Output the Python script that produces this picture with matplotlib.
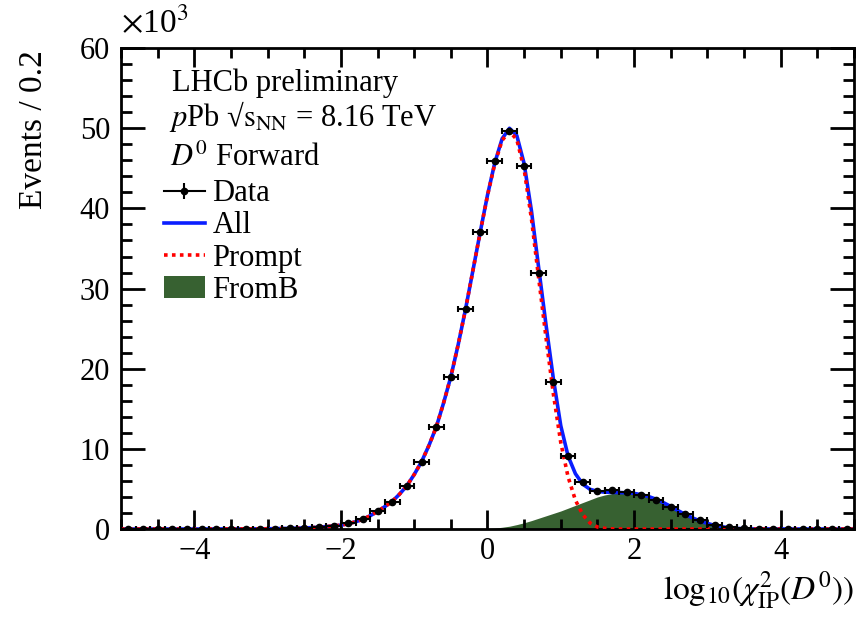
import numpy as np
import matplotlib
matplotlib.use("Agg")
import matplotlib.pyplot as plt
from matplotlib.lines import Line2D
from matplotlib.patches import Patch
from matplotlib.ticker import MultipleLocator

plt.rcParams['font.family'] = ['Liberation Serif', 'DejaVu Serif']
plt.rcParams['mathtext.fontset'] = 'stix'

# data points (bin centres, events in units of 10^3)
x_data = [-4.9, -4.7, -4.5, -4.3, -4.1, -3.9, -3.7, -3.5, -3.3, -3.1,
          -2.9, -2.7, -2.5, -2.3, -2.1, -1.9, -1.7, -1.5, -1.3, -1.1,
          -0.9, -0.7, -0.5, -0.3, -0.1, 0.1, 0.3, 0.5, 0.7, 0.9,
          1.1, 1.3, 1.5, 1.7, 1.9, 2.1, 2.3, 2.5, 2.7, 2.9,
          3.1, 3.3, 3.5, 3.7, 3.9, 4.1, 4.3, 4.5, 4.7, 4.9]
y_data = [0.0, 0.0, 0.0, 0.0, 0.0, 0.0, 0.01, 0.01, 0.02, 0.03,
          0.05, 0.08, 0.12, 0.2, 0.38, 0.7, 1.25, 2.3, 3.4, 5.4,
          8.4, 12.7, 19.0, 27.4, 37.0, 45.9, 49.7, 45.3, 32.0, 18.4,
          9.1, 5.9, 4.8, 4.85, 4.6, 4.2, 3.6, 2.75, 1.9, 1.1,
          0.55, 0.22, 0.1, 0.04, 0.02, 0.01, 0.0, 0.0, 0.0, 0.0]

# fit curves sampled along x
x_fit = np.concatenate([[-5.0, -4.0, -3.5, -3.0, -2.7, -2.4, -2.2],
                        np.round(np.arange(-2.0, 3.65, 0.1), 1),
                        [3.8, 4.2, 5.0]])

prompt = [0.0, 0.0, 0.01, 0.03, 0.08, 0.17, 0.3,
          0.48, 0.66, 0.9, 1.22, 1.66, 2.2, 2.8, 3.45, 4.35, 5.4,
          6.8, 8.4, 10.4, 12.7, 15.7, 19.0, 23.0, 27.4, 32.2, 37.0,
          41.6, 45.6, 48.5, 49.6, 48.6, 44.9, 38.7, 31.2, 23.8, 16.8,
          10.8, 6.5, 3.6, 1.8, 0.75, 0.25, 0.08, 0.02,
          0, 0, 0, 0, 0, 0, 0, 0, 0, 0, 0, 0, 0, 0, 0, 0, 0, 0, 0,
          0, 0, 0]

all_fit = [0.0, 0.0, 0.01, 0.03, 0.08, 0.17, 0.3,
           0.48, 0.66, 0.9, 1.22, 1.66, 2.2, 2.8, 3.45, 4.35, 5.4,
           6.8, 8.4, 10.4, 12.7, 15.7, 19.0, 23.0, 27.4, 32.2, 37.0,
           41.65, 45.7, 48.7, 50.0, 49.1, 45.6, 39.7, 32.5, 25.4, 18.7,
           12.9, 9.1, 6.9, 5.6, 4.95, 4.7, 4.6, 4.57, 4.55, 4.52,
           4.45, 4.28, 4.05, 3.72, 3.3, 2.82, 2.3, 1.82, 1.38, 1.0,
           0.7, 0.45, 0.28, 0.16, 0.08, 0.04, 0.02,
           0.01, 0.0, 0.0]

fromb = [0, 0, 0, 0, 0, 0, 0,
         0, 0, 0, 0, 0, 0, 0, 0, 0, 0,
         0, 0, 0, 0, 0, 0, 0, 0, 0, 0,
         0.05, 0.12, 0.22, 0.35, 0.55, 0.78, 1.05, 1.35, 1.65, 1.95,
         2.25, 2.6, 2.95, 3.3, 3.65, 4.0, 4.25, 4.42, 4.5, 4.52,
         4.45, 4.28, 4.05, 3.72, 3.3, 2.82, 2.3, 1.82, 1.38, 1.0,
         0.7, 0.45, 0.28, 0.16, 0.08, 0.04, 0.02,
         0.01, 0.0, 0.0]

green = '#376131'
blue = '#0a1eff'
fs = 22

fig = plt.figure(figsize=(8.59, 6.17), dpi=100)
ax = fig.add_axes([0.141, 0.1426, 0.853, 0.7794])

ax.fill_between(x_fit, 0, fromb, color=green, lw=0, zorder=1)
ax.plot(x_fit, all_fit, color=blue, lw=2.6, zorder=2)
ax.plot(x_fit, prompt, color='red', lw=2.6, ls=(0, (1, 1.2)), zorder=3)
ax.errorbar(x_data, y_data, xerr=0.1, fmt='o', color='black', ms=4.5,
            elinewidth=1.5, capsize=2.5, capthick=1.5, zorder=4)

ax.set_xlim(-5, 5)
ax.set_ylim(0, 60)
ax.xaxis.set_major_locator(MultipleLocator(2))
ax.xaxis.set_minor_locator(MultipleLocator(0.5))
ax.yaxis.set_major_locator(MultipleLocator(10))
ax.yaxis.set_minor_locator(MultipleLocator(2))
ax.tick_params(which='both', direction='in', top=True, right=True,
               labelsize=fs, width=2)
ax.tick_params(axis='x', which='major', length=14, pad=6)
ax.tick_params(axis='x', which='minor', length=7)
ax.tick_params(axis='y', which='major', length=17, pad=8)
ax.tick_params(axis='y', which='minor', length=8)
ax.set_xticks([-4, -2, 0, 2, 4])
ax.set_xticklabels(['\u22124', '\u22122', '0', '2', '4'])
for s in ax.spines.values():
    s.set_linewidth(2)

ax.set_ylabel('Events / 0.2', fontsize=24, loc='top')
ax.yaxis.set_label_coords(-0.098, 0.996)
ax.set_xlabel(r'$\mathrm{log}_{10}(\chi^{2}_{\mathrm{IP}}(D^{0}))$', fontsize=24, loc='right')
ax.xaxis.set_label_coords(1.0, -0.085)

ax.text(0.0, 1.052, r'$\times$10$^{3}$', transform=ax.transAxes,
        fontsize=24, ha='left', va='center')

ax.text(0.07, 0.927, 'LHCb preliminary', transform=ax.transAxes,
        fontsize=fs, va='center')
ax.text(0.065, 0.857, '$p$Pb \u221A$\\mathrm{s}_{\\mathrm{NN}}$ = 8.16 TeV',
        transform=ax.transAxes, fontsize=fs, va='center')
ax.text(0.067, 0.77, r'$D^{0}$ Forward', transform=ax.transAxes,
        fontsize=fs, va='center')

h_data = (Line2D([], [], color='black', lw=1.5, marker='o', ms=4.5),
          Line2D([], [], color='black', ls='none', marker='|', ms=12, mew=1.5))
h_all = Line2D([], [], color=blue, lw=2.6)
h_prompt = Line2D([], [], color='red', lw=2.6, ls=(0, (1, 1.2)))
h_fromb = Patch(facecolor=green, edgecolor='none')
ax.legend([h_data, h_all, h_prompt, h_fromb], ['Data', 'All', 'Prompt', 'FromB'],
          loc='upper left', bbox_to_anchor=(0.058, 0.727), frameon=False,
          fontsize=fs, handlelength=1.35, handletextpad=0.25,
          labelspacing=0.1, borderpad=0, borderaxespad=0)

fig.savefig('out.png', dpi=100)
